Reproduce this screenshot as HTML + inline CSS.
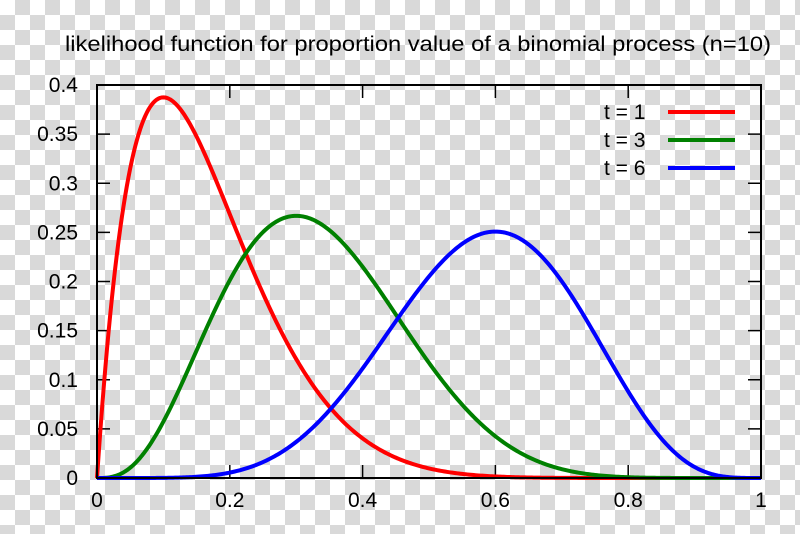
<!DOCTYPE html>
<html><head><meta charset="utf-8"><style>
html,body{margin:0;padding:0;width:800px;height:534px;overflow:hidden;}
body{background-color:#fff;background-image:conic-gradient(#fff 0 25%,#d9d9d9 0 50%,#fff 0 75%,#d9d9d9 0);background-size:30px 30px;background-position:15px 0;}
svg text{font-family:"Liberation Sans",sans-serif;font-size:21px;fill:#000;}
</style></head><body>
<svg id="s" width="800" height="534" xmlns="http://www.w3.org/2000/svg">
<text x="418" y="51" text-anchor="middle" textLength="706" lengthAdjust="spacingAndGlyphs" style="font-size:21px">likelihood function for proportion value of a binomial process (n=10)</text>
<g id="ticks" stroke="#000" stroke-width="1.5"></g>
<g id="labels"></g>
<g id="curves" fill="none" stroke-width="4" stroke-linejoin="round"></g>
<rect x="97" y="85" width="664" height="393" fill="none" stroke="#000" stroke-width="2"/>
<text x="604" y="119">t = 1</text><line x1="668" y1="112" x2="735" y2="112" stroke="#f00" stroke-width="4"/>
<text x="604" y="147">t = 3</text><line x1="668" y1="140" x2="735" y2="140" stroke="#008000" stroke-width="4"/>
<text x="604" y="175">t = 6</text><line x1="668" y1="168" x2="735" y2="168" stroke="#00f" stroke-width="4"/>
</svg>
<script>
var X0=97,X1=761,Y0=478,Y1=85,NS="http://www.w3.org/2000/svg";
function X(p){return X0+(X1-X0)*p}function Y(v){return Y0-(Y0-Y1)*v/0.4}
var tk=document.getElementById('ticks'),lb=document.getElementById('labels'),cv=document.getElementById('curves');
function el(t,a,par){var e=document.createElementNS(NS,t);for(var k in a)e.setAttribute(k,a[k]);par.appendChild(e);return e}
for(var i=0;i<=8;i++){var v=i*0.05,y=Y(v);
 el('line',{x1:X0,y1:y,x2:X0+13,y2:y},tk);el('line',{x1:X1,y1:y,x2:X1-13,y2:y},tk);
 var t=el('text',{x:78,y:y+7,'text-anchor':'end'},lb);t.textContent=i==0?'0':String(+v.toFixed(2));}
for(var i=0;i<=5;i++){var p=i*0.2,x=X(p);
 el('line',{x1:x,y1:Y0,x2:x,y2:Y0-13},tk);el('line',{x1:x,y1:Y1,x2:x,y2:Y1+13},tk);
 var t=el('text',{x:x,y:507,'text-anchor':'middle'},lb);t.textContent=i==0?'0':i==5?'1':String(+p.toFixed(1));}
function C(n,k){var r=1;for(var i=1;i<=k;i++)r=r*(n-k+i)/i;return r}
[[1,'#f00'],[3,'#008000'],[6,'#00f']].forEach(function(a){var t=a[0],d='';
 for(var i=0;i<=400;i++){var p=i/400,v=C(10,t)*Math.pow(p,t)*Math.pow(1-p,10-t);d+=(i?'L':'M')+X(p).toFixed(2)+','+Y(v).toFixed(2);}
 el('path',{d:d,stroke:a[1]},cv);});
</script>
</body></html>
